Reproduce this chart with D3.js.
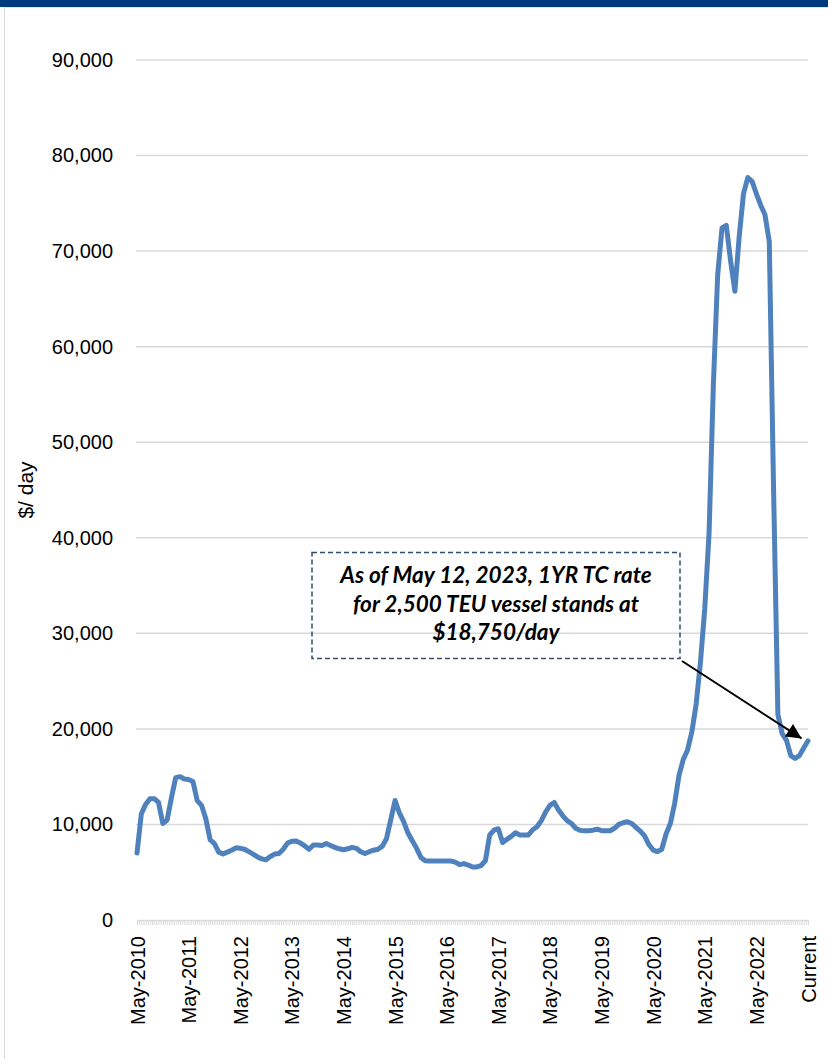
<!DOCTYPE html>
<html>
<head>
<meta charset="utf-8">
<script src="https://cdn.jsdelivr.net/npm/d3@7/dist/d3.min.js"></script>
<style>
  html, body { margin: 0; padding: 0; background: #fff; }
  svg { display: block; }
</style>
</head>
<body>
<svg id="chart" width="828" height="1059"></svg>
<script>
// ---- DATA ----
// Monthly 1YR TC rate for 2,500 TEU vessel, May-2010 .. Current (May-2023), $/day
const rates = [
  7000, 11100, 12100, 12700, 12700, 12300, 10100, 10450, 12800, 14900, 15000, 14750,
  14700, 14500, 12500, 12000, 10600, 8400, 8000, 7100, 6900, 7100, 7300, 7550,
  7500, 7400, 7150, 6900, 6600, 6400, 6300, 6650, 6900, 6950, 7400, 8050,
  8250, 8260, 8050, 7750, 7400, 7850, 7850, 7800, 8000, 7800, 7600, 7450,
  7350, 7450, 7600, 7500, 7150, 6950, 7150, 7300, 7400, 7700, 8500, 10500,
  12500, 11200, 10300, 9100, 8300, 7500, 6550, 6200, 6170, 6170, 6170, 6170,
  6170, 6170, 6050, 5800, 5900, 5750, 5550, 5550, 5700, 6200, 8900, 9400,
  9550, 8100, 8440, 8750, 9130, 8900, 8890, 8890, 9450, 9760, 10400, 11300,
  12000, 12300, 11500, 10900, 10400, 10100, 9600, 9380, 9340, 9340, 9400, 9500,
  9350, 9340, 9340, 9600, 10000, 10180, 10280, 10100, 9700, 9300, 8800, 7900,
  7320, 7150, 7400, 9000, 10100, 12200, 15100, 16800, 17800, 19700, 22600, 27000,
  32600, 40500, 56000, 67500, 72400, 72700, 69000, 65800, 71500, 76000, 77700, 77300,
  76000, 74800, 73800, 71000, 45000, 21500, 19500, 18800, 17200, 16900, 17200, 18000,
  18750
];
const xTickLabels = ["May-2010","May-2011","May-2012","May-2013","May-2014","May-2015",
  "May-2016","May-2017","May-2018","May-2019","May-2020","May-2021","May-2022","Current"];
const yTicks = [0, 10000, 20000, 30000, 40000, 50000, 60000, 70000, 80000, 90000];
const yTitle = "$/ day";
const noteLines = ["As of May 12, 2023, 1YR TC rate", "for 2,500 TEU vessel stands at", "$18,750/day"];
const noteTarget = { month: 154.5, value: 19000 };

(function () {
  // ---- LAYOUT ----
  const svg = d3.select("#chart");
  const plotL = 137, plotR = 808, plotT = 60, plotB = 920;
  const n = rates.length;

  const x = d3.scaleLinear().domain([0, n - 1]).range([plotL, plotR]);
  const y = d3.scaleLinear().domain([0, 90000]).range([plotB, plotT]);

  svg.append("rect").attr("width", 828).attr("height", 1059).attr("fill", "#fff");
  // header bar and frame
  svg.append("rect").attr("x", 0).attr("y", 0).attr("width", 828).attr("height", 7).attr("fill", "#003b7e");
  svg.append("line").attr("x1", 4.5).attr("x2", 4.5).attr("y1", 7).attr("y2", 1059)
    .attr("stroke", "#d6d6d6").attr("stroke-width", 1);
  svg.append("line").attr("x1", 4.5).attr("x2", 828).attr("y1", 7.5).attr("y2", 7.5)
    .attr("stroke", "#e4e4e4").attr("stroke-width", 1);

  // gridlines
  svg.append("g").selectAll("line").data(yTicks.filter(d => d > 0)).join("line")
    .attr("x1", plotL - 1).attr("x2", plotR)
    .attr("y1", d => y(d)).attr("y2", d => y(d))
    .attr("stroke", "#d9d9d9").attr("stroke-width", 1.5);

  // y axis labels
  const yAxis = svg.append("g").attr("transform", `translate(${plotL - 1},0)`)
    .call(d3.axisLeft(y).tickValues(yTicks).tickFormat(d3.format(",")).tickSize(0).tickPadding(23));
  yAxis.select(".domain").remove();
  yAxis.selectAll("text").attr("font-family", "'Liberation Sans', Arial, sans-serif")
    .attr("font-size", 20).attr("fill", "#000");

  // x axis: baseline + dense minor ticks
  const minorTicks = d3.range(0, n - 1 + 0.001, 0.5);
  const xAxis = svg.append("g").attr("transform", `translate(0,${plotB})`)
    .call(d3.axisBottom(x).tickValues(minorTicks).tickFormat("").tickSize(5).tickSizeOuter(0));
  xAxis.select(".domain").attr("stroke", "#d9d9d9").attr("stroke-width", 1.5);
  xAxis.selectAll(".tick line").attr("stroke", "#d9d9d9").attr("stroke-width", 1);

  // x labels
  const labelIdx = xTickLabels.map((_, i) => i * 12);
  const xLab = svg.append("g").attr("transform", `translate(0,${plotB})`)
    .call(d3.axisBottom(x).tickValues(labelIdx).tickFormat((d, i) => xTickLabels[i]).tickSize(0));
  xLab.select(".domain").remove();
  xLab.selectAll("text")
    .attr("font-family", "'Liberation Sans', Arial, sans-serif")
    .attr("font-size", 20).attr("fill", "#000")
    .attr("text-anchor", "end")
    .attr("transform", "rotate(-90)")
    .attr("x", -16).attr("y", 0).attr("dy", "0.35em");

  // y title
  svg.append("text")
    .attr("transform", "rotate(-90)")
    .attr("x", -490).attr("y", 33)
    .attr("text-anchor", "middle")
    .attr("font-family", "'Liberation Sans', Arial, sans-serif")
    .attr("font-size", 21).attr("fill", "#000")
    .text(yTitle);

  // line series
  const line = d3.line().x((d, i) => x(i)).y(d => y(d));
  svg.append("path").datum(rates)
    .attr("d", line)
    .attr("fill", "none")
    .attr("stroke", "#4f81bd")
    .attr("stroke-width", 5)
    .attr("stroke-linejoin", "round")
    .attr("stroke-linecap", "round");

  // annotation box
  svg.append("rect")
    .attr("x", 312).attr("y", 552.5).attr("width", 368).attr("height", 106)
    .attr("fill", "none")
    .attr("stroke", "#2f4b6e").attr("stroke-width", 1.5)
    .attr("stroke-dasharray", "5,3");
  svg.append("g").selectAll("text").data(noteLines).join("text")
    .attr("x", 496).attr("y", (d, i) => 583 + i * 28.5)
    .attr("text-anchor", "middle")
    .attr("font-family", "Lato, 'Liberation Sans', sans-serif")
    .attr("font-weight", "bold").attr("font-style", "italic")
    .attr("font-size", 22.5).attr("fill", "#000")
    .text(d => d);

  // arrow
  const defs = svg.append("defs");
  defs.append("marker").attr("id", "ah")
    .attr("viewBox", "0 0 10 10").attr("refX", 10).attr("refY", 5)
    .attr("markerUnits", "userSpaceOnUse")
    .attr("markerWidth", 19).attr("markerHeight", 15)
    .attr("orient", "auto")
    .append("path").attr("d", "M0,0 L10,5 L0,10 Z").attr("fill", "#000");
  svg.append("line")
    .attr("x1", 682).attr("y1", 661)
    .attr("x2", x(noteTarget.month)).attr("y2", y(noteTarget.value))
    .attr("stroke", "#000").attr("stroke-width", 2)
    .attr("marker-end", "url(#ah)");
})();
</script>
</body>
</html>
